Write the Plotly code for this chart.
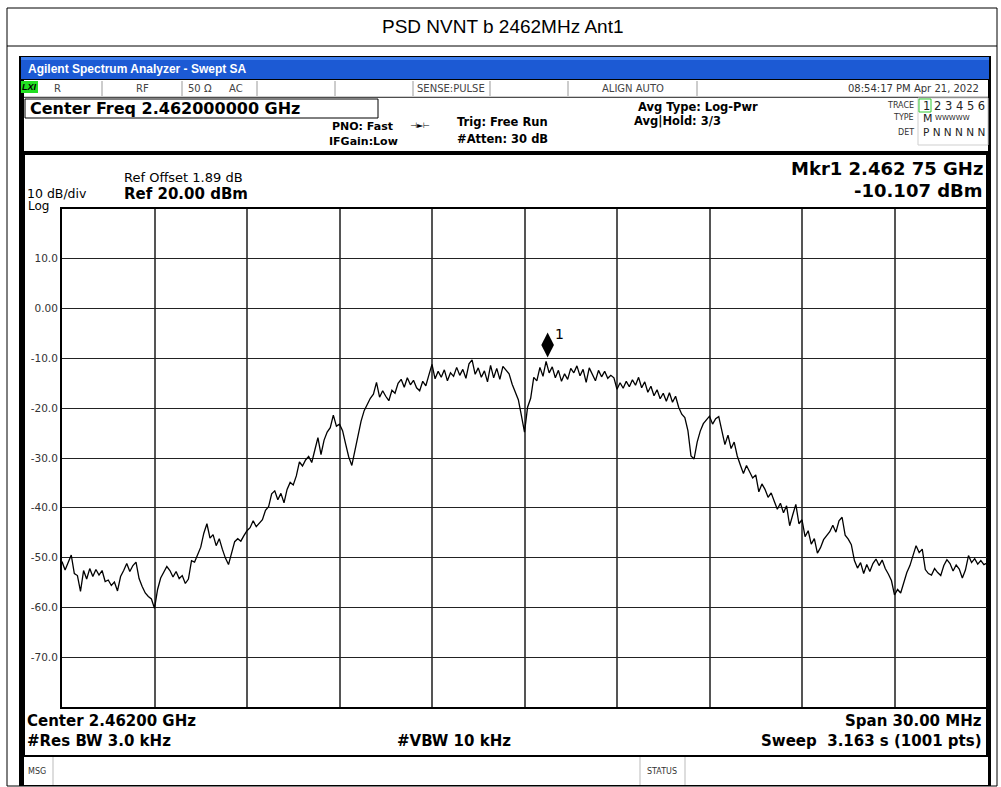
import plotly.graph_objects as go

# ---------------- data ----------------
center_ghz = 2.462
span_mhz = 30.0
n_pts = 301
offset_mhz = [round(-span_mhz / 2 + i * span_mhz / (n_pts - 1), 3) for i in range(n_pts)]

level_dbm = [
    -50.8, -52.5, -51.0, -49.5, -53.2, -53.6, -56.8, -52.6, -54.3, -52.2,
    -53.8, -52.4, -53.5, -52.6, -54.8, -54.5, -55.6, -54.9, -56.7, -53.8,
    -52.6, -51.2, -52.8, -51.6, -50.9, -54.2, -55.8, -57.1, -57.8, -58.3,
    -60.2, -56.4, -54.1, -52.9, -51.8, -52.6, -53.9, -52.8, -54.2, -53.6,
    -55.2, -54.3, -50.6, -50.9, -49.4, -47.9, -45.1, -43.2, -46.1, -45.4,
    -47.6, -46.2, -48.3, -50.1, -51.4, -48.9, -46.8, -46.2, -46.7, -45.6,
    -44.6, -44.0, -42.6, -43.8, -43.2, -42.4, -40.5, -39.8, -37.2, -36.6,
    -38.4, -37.1, -39.0, -36.3, -34.9, -35.4, -33.6, -30.8, -31.6, -30.4,
    -29.7, -30.9, -28.4, -25.9, -29.3, -26.4, -24.8, -23.9, -21.4, -23.6,
    -23.2, -24.5, -27.2, -29.8, -31.5, -28.6, -25.4, -22.6, -20.5, -19.2,
    -18.0, -17.2, -14.8, -17.8, -16.5, -17.6, -18.5, -16.4, -17.0, -15.0,
    -14.2, -15.8, -13.9, -15.3, -14.4, -15.9, -16.5, -14.6, -15.5, -13.3,
    -11.2, -14.1, -12.6, -13.8, -12.3, -14.5, -12.9, -13.6, -11.8, -13.4,
    -12.2, -14.0, -11.1, -10.3, -13.2, -11.9, -13.8, -12.5, -14.7, -11.4,
    -13.9, -12.0, -14.2, -11.6, -12.3, -13.1, -15.2, -16.6, -18.3, -21.5,
    -24.8, -19.8, -18.0, -13.8, -14.5, -11.8, -13.6, -10.6, -12.9, -11.7,
    -13.9, -12.4, -14.6, -13.1, -14.2, -12.0, -12.9, -11.5, -13.5, -12.2,
    -14.8, -11.9, -13.3, -14.5, -12.4, -13.7, -12.6, -14.0, -13.4, -13.9,
    -16.2, -14.9, -16.0, -14.6, -15.7, -14.3, -15.4, -13.8, -15.9, -14.7,
    -16.8, -15.6, -17.5, -16.3, -18.1, -17.0, -18.6, -16.9, -18.8, -17.6,
    -19.8, -21.2, -21.9, -24.5, -29.6, -30.2, -26.8, -24.6, -23.1, -22.4,
    -21.6, -23.2, -22.1, -21.7, -24.6, -27.3, -25.4, -28.1, -26.8, -29.6,
    -31.4, -33.1, -31.5, -32.6, -34.0, -33.4, -36.8, -35.2, -36.3, -37.9,
    -37.0, -38.7, -40.3, -39.1, -41.0, -39.6, -43.6, -41.4, -39.3, -43.2,
    -42.4, -45.8, -44.6, -47.3, -46.2, -49.1, -48.0, -46.4, -45.6, -44.8,
    -43.5, -44.9, -42.6, -41.9, -45.5, -46.3, -47.4, -50.6, -52.1, -51.0,
    -53.2, -51.4, -52.8, -51.2, -50.3, -51.6, -50.5, -52.2, -53.3, -54.6,
    -57.5, -56.4, -57.1, -55.2, -53.0, -51.6, -49.8, -47.6, -49.0, -48.3,
    -52.4, -53.2, -53.5, -52.2, -53.0, -53.6, -51.6, -50.4, -51.2, -52.7,
    -51.5, -52.3, -54.1, -52.5, -49.6, -51.0, -50.2, -51.3, -50.6, -51.4, -51.1,
]

freq_ghz = [center_ghz + o / 1000.0 for o in offset_mhz]

marker_freq_ghz = 2.46275
marker_level_dbm = -10.107

ref_level = 20.0
db_per_div = 10.0
n_div = 10
y_tick_vals = [10, 0, -10, -20, -30, -40, -50, -60, -70]
y_tick_text = ["10.0", "0.00", "-10.0", "-20.0", "-30.0", "-40.0", "-50.0", "-60.0", "-70.0"]
x_grid_vals = [center_ghz + (k - 5) * 3.0 / 1000.0 for k in range(11)]

title_text = "PSD NVNT b 2462MHz Ant1"

# ---------------- layout helpers ----------------
W, H = 1001, 787
PL, PR, PT, PB = 62, 987, 209, 707


def px(x):
    return (x - PL) / (PR - PL)


def py(y):
    return (PB - y) / (PB - PT)


shapes = []
annots = []


def rect(x0, y0, x1, y1, fill=None, line=None, lw=1):
    shapes.append(dict(type="rect", xref="paper", yref="paper", layer="below",
                       x0=px(x0), x1=px(x1), y0=py(y0), y1=py(y1),
                       fillcolor=fill if fill else "rgba(0,0,0,0)",
                       line=dict(color=line if line else "rgba(0,0,0,0)", width=lw if line else 0)))


def hline(x0, x1, y, color="#000", lw=1):
    shapes.append(dict(type="line", xref="paper", yref="paper", layer="below",
                       x0=px(x0), x1=px(x1), y0=py(y), y1=py(y), line=dict(color=color, width=lw)))


def vline(x, y0, y1, color="#000", lw=1):
    shapes.append(dict(type="line", xref="paper", yref="paper", layer="below",
                       x0=px(x), x1=px(x), y0=py(y0), y1=py(y1), line=dict(color=color, width=lw)))


SANS = "DejaVu Sans"


def text(x, y, s, size=12, color="#000", anchor="left", family=SANS, bold=False):
    annots.append(dict(xref="paper", yref="paper", x=px(x), y=py(y), text=("<b>%s</b>" % s) if bold else s,
                       showarrow=False, xanchor=anchor, yanchor="middle",
                       font=dict(family=family, size=size, color=color)))


# outer frame and title box
rect(7, 8, 997, 786, fill="#ffffff", line="#000", lw=1)
hline(7, 997, 46, "#000", 1)
text(502, 27, title_text, size=19, family="Liberation Sans", anchor="center")

# analyzer window
rect(19, 56, 991, 786, fill="#000000")
rect(21, 57, 989, 79, fill="#1c5ad4")
rect(21, 57, 989, 60, fill="#3f7fee")
text(26, 69, "Agilent Spectrum Analyzer - Swept SA", size=12, color="#ffffff", family="Liberation Sans", bold=True)

# status row
rect(24, 80, 988, 97, fill="#ffffff")
for sx in [102, 182, 257, 335, 413, 490, 568, 697]:
    vline(sx, 81, 96, "#9a9a9a", 1)
hline(24, 988, 97, "#9a9a9a", 1)
rect(21, 81, 38, 93, fill="#22e022")
text(29, 87, "<i><b>LXI</b></i>", size=9, anchor="center", family="Liberation Sans")
text(57, 88, "R", size=10, color="#444", anchor="center")
text(142, 88, "RF", size=10, color="#444", anchor="center")
text(200, 88, "50 Ω", size=10, color="#444", anchor="center")
text(236, 88, "AC", size=10, color="#444", anchor="center")
text(451, 88, "SENSE:PULSE", size=10, color="#444", anchor="center")
text(633, 88, "ALIGN AUTO", size=10, color="#444", anchor="center")
text(981, 88, "08:54:17 PM Apr 21, 2022", size=10, color="#333", anchor="right")

# header area
rect(24, 98, 988, 151, fill="#ffffff")
rect(25, 99, 378, 118, fill="#ffffff", line="#000", lw=1)
text(28, 109, "Center Freq 2.462000000 GHz", size=16, bold=True)
text(395, 127, "PNO: Fast", size=11, bold=True, anchor="right")
text(400, 141, "IFGain:Low", size=11, bold=True, anchor="right")
text(420, 126, "⊣►⊢", size=8, anchor="center")
text(455, 122, "Trig: Free Run", size=11.5, bold=True)
text(455, 139, "#Atten: 30 dB", size=11.5, bold=True)
text(636, 107, "Avg Type: Log-Pwr", size=11.5, bold=True)
text(632, 121, "Avg|Hold: 3/3", size=11.5, bold=True)
rect(918, 98, 988, 145, fill="#ffffff", line="#cfcfcf", lw=1)
rect(919, 99, 931, 112, fill="#ffffff", line="#33cc33", lw=1)
text(916, 105, "TRACE", size=8, color="#333", anchor="right")
text(916, 118, "TYPE", size=8, color="#333", anchor="right")
text(916, 132, "DET", size=8, color="#333", anchor="right")
text(921, 106, "1 2 3 4 5 6", size=11.5, color="#222")
text(921, 119, "M", size=11, color="#222")
text(933, 118, "WWWWW", size=7, color="#222")
text(921, 132, "P N N N N N", size=10.5, color="#222")

# plot panel
rect(25, 155, 986, 755, fill="#ffffff")
text(122, 177, "Ref Offset 1.89 dB", size=13)
text(25, 193, "10 dB/div", size=12.5)
text(122, 194, "Ref 20.00 dBm", size=15, bold=True)
text(26, 206.5, "Log", size=12)
text(985, 168, "Mkr1 2.462 75 GHz", size=18, bold=True, anchor="right")
text(985, 190, "-10.107 dBm", size=18, bold=True, anchor="right")
text(25, 721, "Center 2.46200 GHz", size=15, bold=True)
text(25, 741, "#Res BW 3.0 kHz", size=15, bold=True)
text(395, 741, "#VBW 10 kHz", size=15, bold=True)
text(984, 721, "Span 30.00 MHz", size=15, bold=True, anchor="right")
text(984, 741, "Sweep  3.163 s (1001 pts)", size=15, bold=True, anchor="right")

# message row
rect(24, 757, 988, 785, fill="#ffffff")
vline(53, 757, 785, "#bbbbbb", 1)
vline(640, 757, 785, "#bbbbbb", 1)
vline(685, 757, 785, "#bbbbbb", 1)
text(26, 771, "MSG", size=8, color="#333")
text(662, 771, "STATUS", size=8, color="#333", anchor="center")

# marker label
annots.append(dict(xref="x", yref="y", x=marker_freq_ghz, y=marker_level_dbm, text="1",
                   showarrow=False, xshift=12, yshift=25,
                   font=dict(family=SANS, size=14, color="#000")))

# ---------------- figure ----------------
fig = go.Figure()
fig.add_trace(go.Scatter(x=freq_ghz, y=level_dbm, mode="lines",
                         line=dict(color="#000000", width=1.3), hoverinfo="skip", showlegend=False))
fig.add_trace(go.Scatter(x=[marker_freq_ghz], y=[marker_level_dbm + 2.8], mode="markers",
                         marker=dict(symbol="diamond-tall", size=18, color="#000000"),
                         hoverinfo="skip", showlegend=False))

fig.update_layout(
    width=W, height=H, autosize=False,
    margin=dict(l=PL, r=W - PR, t=PT, b=H - PB, pad=0),
    paper_bgcolor="#ffffff", plot_bgcolor="rgba(0,0,0,0)",
    shapes=shapes, annotations=annots, showlegend=False,
    xaxis=dict(range=[center_ghz - span_mhz / 2000, center_ghz + span_mhz / 2000],
               tickvals=x_grid_vals, showticklabels=False, ticks="",
               showgrid=True, gridcolor="#555555", gridwidth=1.5,
               showline=True, mirror=True, linecolor="#000000", linewidth=2, zeroline=False),
    yaxis=dict(range=[ref_level - db_per_div * n_div, ref_level],
               tickvals=y_tick_vals, ticktext=y_tick_text, ticks="",
               tickfont=dict(family=SANS, size=10.5, color="#333333"),
               showgrid=True, gridcolor="#222222", gridwidth=1.3,
               showline=True, mirror=True, linecolor="#000000", linewidth=2, zeroline=False),
)

fig.write_html("out.html", config={"displayModeBar": False},
               post_script="document.body.style.margin='0';")
